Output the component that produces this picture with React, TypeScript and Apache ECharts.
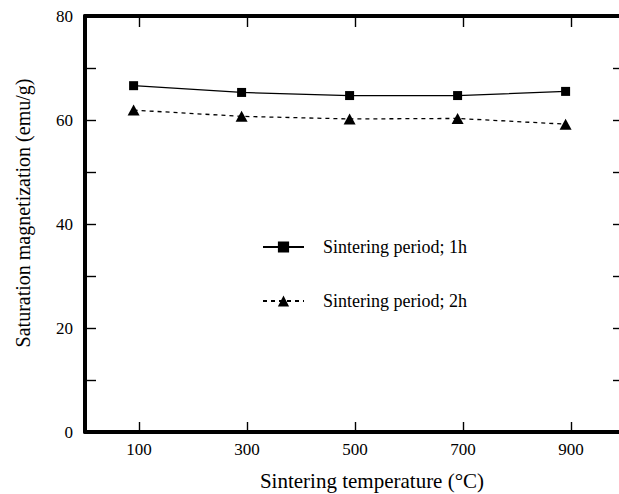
import React, { useEffect, useRef } from "react";
import * as echarts from "echarts";

const temperatures = [90, 290, 490, 690, 890];
const period1h = [66.6, 65.3, 64.7, 64.7, 65.5];
const period2h = [61.9, 60.7, 60.2, 60.3, 59.2];
const xTickValues = [100, 300, 500, 700, 900];
const seriesNames = ["Sintering period; 1h", "Sintering period; 2h"];

const FONT = "Liberation Serif, Times New Roman, serif";

export default function App() {
  const ref = useRef<HTMLDivElement>(null);
  useEffect(() => {
    if (!ref.current) return;
    const chart = echarts.init(ref.current, null, { renderer: "svg" });
    const axisLine = { show: true, onZero: false, lineStyle: { color: "#000", width: 4 } };
    const tickStyle = { color: "#000", width: 1.4 };
    chart.setOption({
      animation: false,
      backgroundColor: "#fff",
      textStyle: { fontFamily: FONT, color: "#000" },
      grid: { left: 85, top: 16, right: -6, bottom: 62, containLabel: false, outerBoundsMode: "none" },
      legend: {
        orient: "vertical",
        left: 257,
        top: 233,
        itemWidth: 41,
        itemHeight: 14,
        itemGap: 36,
        data: seriesNames,
        textStyle: { fontFamily: FONT, fontSize: 18, color: "#000", padding: [0, 0, 0, 14] },
      },
      xAxis: [
        {
          type: "value",
          min: 0,
          max: 1000,
          position: "bottom",
          name: "Sintering temperature (°C)",
          nameLocation: "middle",
          nameGap: 38,
          nameTextStyle: { fontFamily: FONT, fontSize: 21, color: "#000", padding: [0, 0, 0, 34] },
          axisLine,
          axisTick: { show: true, inside: true, length: 10, customValues: xTickValues, lineStyle: tickStyle },
          axisLabel: { show: true, customValues: xTickValues, margin: 9, fontFamily: FONT, fontSize: 17, color: "#000" },
          splitLine: { show: false },
        },
        {
          type: "value",
          min: 0,
          max: 1000,
          position: "top",
          axisLine,
          axisTick: { show: true, inside: true, length: 11, customValues: xTickValues, lineStyle: tickStyle },
          axisLabel: { show: false },
          splitLine: { show: false },
        },
      ],
      yAxis: [
        {
          type: "value",
          min: 0,
          max: 80,
          interval: 10,
          position: "left",
          name: "Saturation magnetization (emu/g)",
          nameLocation: "middle",
          nameGap: 52,
          nameRotate: 90,
          nameTextStyle: { fontFamily: FONT, fontSize: 20, color: "#000", padding: [0, 0, 0, 22] },
          axisLine,
          axisTick: { show: true, inside: true, length: 11, lineStyle: tickStyle },
          axisLabel: {
            show: true,
            margin: 12,
            fontFamily: FONT,
            fontSize: 17,
            color: "#000",
            formatter: (v: number) => (v % 20 === 0 ? String(v) : ""),
          },
          splitLine: { show: false },
        },
        {
          type: "value",
          min: 0,
          max: 80,
          interval: 10,
          position: "right",
          axisLine,
          axisTick: { show: true, inside: true, length: 12, lineStyle: tickStyle },
          axisLabel: { show: false },
          splitLine: { show: false },
        },
      ],
      series: [
        {
          name: seriesNames[0],
          type: "line",
          xAxisIndex: 0,
          yAxisIndex: 0,
          data: temperatures.map((t, i) => [t, period1h[i]]),
          symbol: "rect",
          symbolSize: 9,
          itemStyle: { color: "#000" },
          lineStyle: { color: "#000", width: 1.3, type: "solid" },
        },
        {
          name: seriesNames[1],
          type: "line",
          xAxisIndex: 0,
          yAxisIndex: 0,
          data: temperatures.map((t, i) => [t, period2h[i]]),
          symbol: "triangle",
          symbolSize: [12, 11],
          itemStyle: { color: "#000" },
          lineStyle: { color: "#000", width: 1.3, type: [4, 4] },
        },
      ],
    });
    return () => chart.dispose();
  }, []);
  return (
    <div
      ref={ref}
      style={{ position: "fixed", left: 0, top: 0, width: 619, height: 494, background: "#fff" }}
    />
  );
}
